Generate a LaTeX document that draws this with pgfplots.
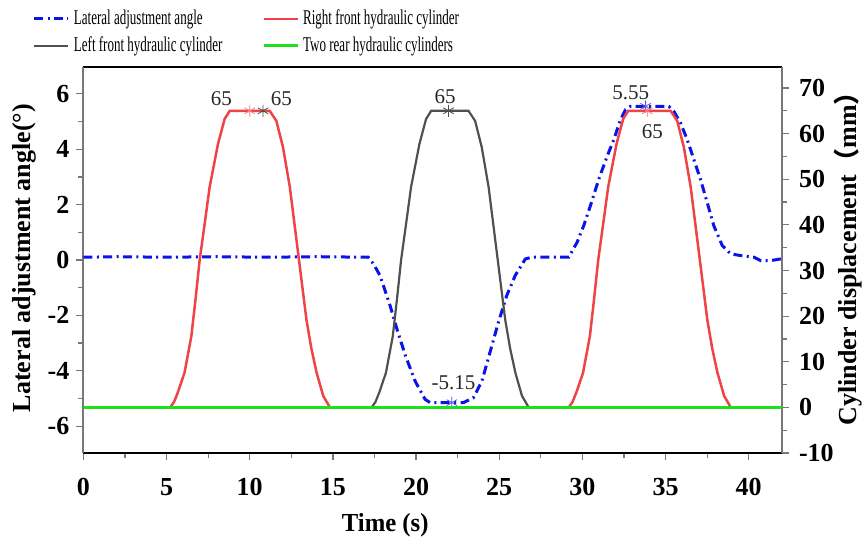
\documentclass[border=0pt]{standalone}
\usepackage{fontspec}
\setmainfont{Liberation Serif}
\newfontfamily\legfont[FakeStretch=0.62]{Liberation Serif}
\newfontfamily\xlabfont[FakeStretch=0.95]{Liberation Serif}
\newfontfamily\cjk{Noto Sans CJK SC}
\usepackage{pgfplots}
\pgfplotsset{compat=1.18}
\definecolor{cblue}{RGB}{10,20,230}
\definecolor{cred}{RGB}{238,68,72}
\definecolor{cgray}{RGB}{80,80,80}
\definecolor{cgreen}{RGB}{30,225,30}
\definecolor{spine}{RGB}{120,120,120}
\begin{document}
\begin{tikzpicture}
\path[use as bounding box] (-41.7pt,-44.5pt) rectangle (391.8pt,226.5pt);
\pgfplotsset{
  common/.style={
    scale only axis, width=349.3pt, height=193pt,
    xmin=0, xmax=42,
    /pgf/number format/assume math mode=true,
    tick align=outside, major tick length=3.5pt, minor tick length=2.5pt,
    tick style={spine, line width=0.6pt},
    ticklabel style={font=\bfseries\fontsize{13}{15}\selectfont},
  }
}
\begin{axis}[common,
  ymin=-6.97, ymax=6.97,
  separate axis lines,
  x axis line style={black, line width=0.6pt},
  y axis line style={spine, line width=1pt},
  xtick={0,5,...,40}, minor x tick num=1, xtick pos=bottom,
  xticklabel style={yshift=-5.5pt},
  ytick={-6,-4,...,6}, minor y tick num=1, ytick pos=left,
  xlabel={Time (s)},
  xlabel style={font=\xlabfont\bfseries\fontsize{13}{15}\selectfont, at={(axis description cs:0.432,-0.187)}, anchor=center},
  ylabel={Lateral adjustment angle(°)},
  every axis y label/.style={font=\bfseries\fontsize{13}{15}\selectfont, at={(axis description cs:-0.085,0.505)}, anchor=center, rotate=90},
]
\addplot[cblue, line width=1.5pt, dash pattern=on 4.5pt off 2.2pt on 1pt off 2.2pt] coordinates {
(0,0.1) (2,0.12) (5,0.1) (8,0.12) (11,0.1) (14,0.12) (17.13,0.1) (17.45,-0.15) (17.83,-0.56) (18.43,-1.63) (18.84,-2.47) (19.34,-3.42) (19.94,-4.37) (20.54,-5.03) (20.84,-5.15) (22.85,-5.15) (23.45,-4.97) (23.96,-4.37) (24.46,-3.3) (24.96,-2.23) (25.46,-1.27) (25.96,-0.56) (26.57,0.04) (26.97,0.1) (29.18,0.1) (29.68,0.64) (30.08,1.24) (30.48,1.96) (30.98,2.91) (31.49,3.75) (31.89,4.35) (32.29,5.07) (32.59,5.43) (32.89,5.55) (35.2,5.55) (35.5,5.37) (35.9,4.95) (36.3,4.35) (36.7,3.63) (37.1,2.91) (37.5,2.08) (37.9,1.24) (38.41,0.52) (38.92,0.22) (39.52,0.16) (40.32,0.1) (40.72,-0.02) (41.33,-0.02) (41.93,0.04)
};
\addplot[only marks, mark=asterisk, mark size=3pt, cblue!70!white, forget plot] coordinates {(22.15,-5.15) (33.8,5.55)};
\end{axis}
\begin{axis}[common,
  ymin=-10, ymax=74.6,
  axis x line=none, axis y line*=right,
  y axis line style={spine, line width=1pt},
  ytick={-10,0,...,70}, minor y tick num=1,
  yticklabel style={xshift=1.5pt},
  ylabel={Cylinder displacement{\cjk （}mm{\cjk ）}},
  every axis y label/.style={font=\bfseries\fontsize{13}{15}\selectfont, at={(axis description cs:1.0945,0.52)}, anchor=center, rotate=90},
  legend columns=2, legend cell align=left,
  legend style={at={(axis description cs:0,1)}, anchor=south west, xshift=-28.5pt, yshift=2pt, draw=none, fill=none, font=\legfont\fontsize{10.5}{12}\selectfont, row sep=0.5pt, /tikz/every even column/.append style={column sep=18pt}},
]
\addlegendimage{cblue, line width=1.5pt, dash pattern=on 4.5pt off 2.2pt on 1pt off 2.2pt}
\addlegendentry{Lateral adjustment angle}
\addplot[cred, line width=1.25pt] coordinates {
(0,0) (5.22,0) (5.45,1.2) (5.68,3.3) (6.08,7.6) (6.49,15.6) (6.75,24) (6.99,32.3) (7.3,40.5) (7.59,48.3) (8.09,57.7) (8.49,63.2) (8.8,65) (11.2,65) (11.6,62.8) (12.0,57) (12.41,48.3) (12.91,33.8) (13.41,19.2) (13.7,13) (14.02,7.6) (14.42,2.5) (14.82,0) (29.18,0) (29.41,1.2) (29.64,3.3) (30.04,7.6) (30.45,15.6) (30.71,24) (30.95,32.3) (31.26,40.5) (31.55,48.3) (32.05,57.7) (32.45,63.2) (32.76,65) (35.3,65) (35.7,62.8) (36.1,57) (36.51,48.3) (37.01,33.8) (37.51,19.2) (37.8,13) (38.12,7.6) (38.52,2.5) (38.92,0) (42,0)
};
\addlegendentry{Right front hydraulic cylinder}
\addplot[cgray, line width=1.1pt] coordinates {
(0,0) (17.33,0) (17.56,1.2) (17.79,3.3) (18.19,7.6) (18.6,15.6) (18.86,24) (19.1,32.3) (19.41,40.5) (19.7,48.3) (20.2,57.7) (20.6,63.2) (20.91,65) (23.15,65) (23.55,62.8) (23.95,57) (24.36,48.3) (24.86,33.8) (25.36,19.2) (25.65,13) (25.97,7.6) (26.37,2.5) (26.77,0) (42,0)
};
\addlegendentry{Left front hydraulic cylinder}
\addplot[cgreen, line width=1.25pt] coordinates {(0,0) (42,0)};
\addlegendentry{Two rear hydraulic cylinders}
\addplot[only marks, mark=asterisk, mark size=3pt, cred!70!white, forget plot] coordinates {(10.0,65) (33.9,65)};
\addplot[only marks, mark=asterisk, mark size=3pt, black!70, forget plot] coordinates {(10.8,65) (21.95,65)};
\begin{scope}[every node/.style={font=\fontsize{10.5}{12}\selectfont, text=black!85}]
\node at (axis cs:8.3,67.6) {65};
\node at (axis cs:11.9,67.6) {65};
\node at (axis cs:21.75,68) {65};
\node at (axis cs:32.9,68.9) {5.55};
\node at (axis cs:34.2,60.4) {65};
\node at (axis cs:22.25,5.3) {-5.15};
\end{scope}
\end{axis}
\end{tikzpicture}
\end{document}
